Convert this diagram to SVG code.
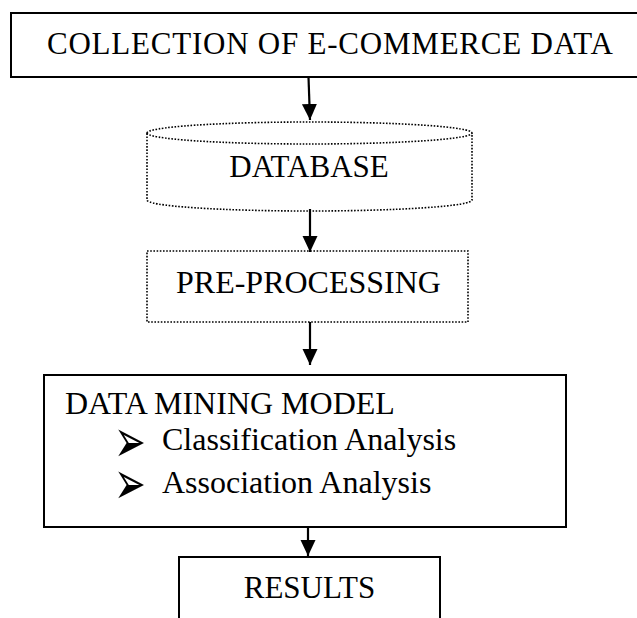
<svg xmlns="http://www.w3.org/2000/svg" width="637" height="618" viewBox="0 0 637 618">
  <style>
    .t { font-family: "Liberation Serif", "Times New Roman", serif; fill: #000; }
    .solid { fill: #fff; stroke: #000; stroke-width: 2; }
    .dotted { fill: #fff; stroke: #000; stroke-width: 1.6; stroke-dasharray: 1.6 1.6; }
    .conn { stroke: #000; stroke-width: 2.2; fill: none; }
    .bullet { font-family: "DejaVu Sans", sans-serif; font-size: 38px; fill: #000; }
  </style>
  <defs>
    <marker id="ah" markerUnits="userSpaceOnUse" markerWidth="16" markerHeight="16" refX="16" refY="7.5" orient="auto">
      <path d="M0,0 L16,7.5 L0,15 Z" fill="#000"/>
    </marker>
  </defs>
  <rect width="637" height="618" fill="#fff"/>

  <g id="collection">
    <rect class="solid" x="11" y="13" width="640" height="64"/>
    <text class="t" x="330" y="54" font-size="31" text-anchor="middle" textLength="566">COLLECTION OF E-COMMERCE DATA</text>
  </g>

  <g id="database">
    <path class="dotted" d="M147,133 A162.5,11 0 0 1 472,133 L472,200 A162.5,11 0 0 1 147,200 Z"/>
    <path class="dotted" fill="none" d="M147,133 A162.5,11 0 0 0 472,133"/>
    <text class="t" x="309" y="177" font-size="31" text-anchor="middle">DATABASE</text>
  </g>

  <g id="preprocessing">
    <rect class="dotted" x="147" y="251" width="321" height="71"/>
    <text class="t" x="308.5" y="293" font-size="32" text-anchor="middle">PRE-PROCESSING</text>
  </g>

  <g id="datamining">
    <rect class="solid" x="44" y="375" width="522" height="152"/>
    <text class="t" x="65" y="414" font-size="32">DATA MINING MODEL</text>
    <text class="bullet" transform="translate(114,437) scale(1,1.6)" x="0" y="15.5">➢</text>
    <text class="t" x="162" y="450" font-size="32">Classification Analysis</text>
    <text class="bullet" transform="translate(114,479) scale(1,1.6)" x="0" y="15.5">➢</text>
    <text class="t" x="162" y="493" font-size="32">Association Analysis</text>
  </g>

  <g id="results">
    <rect class="solid" x="179" y="557" width="261" height="80"/>
    <text class="t" x="309.5" y="598" font-size="31" text-anchor="middle">RESULTS</text>
  </g>

  <g id="connectors">
    <line class="conn" x1="308.5" y1="77" x2="310" y2="120" marker-end="url(#ah)"/>
    <line class="conn" x1="310" y1="209" x2="310" y2="252" marker-end="url(#ah)"/>
    <line class="conn" x1="310" y1="322" x2="310" y2="365" marker-end="url(#ah)"/>
    <line class="conn" x1="308" y1="527" x2="308" y2="556" marker-end="url(#ah)"/>
  </g>
</svg>
